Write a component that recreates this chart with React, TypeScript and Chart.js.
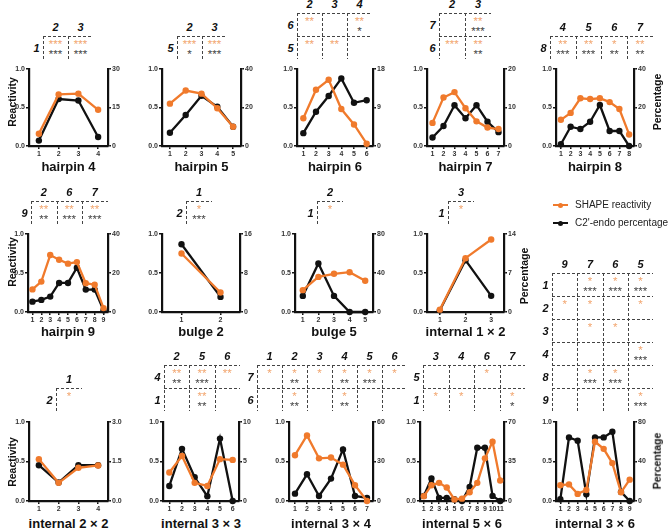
import React, { useEffect, useRef } from 'react';
import { Chart, registerables } from 'chart.js';

Chart.register(...registerables);

// ---------- DATA ----------
const hairpin4Labels = ['1', '2', '3', '4'];
const hairpin4Shape = [0.16, 0.67, 0.68, 0.47];
const hairpin4Endo = [2.1, 18.3, 17.7, 3.5];

const hairpin5Labels = ['1', '2', '3', '4', '5'];
const hairpin5Shape = [0.55, 0.72, 0.68, 0.49, 0.25];
const hairpin5Endo = [6.9, 16.1, 26.1, 20.4, 10];

const hairpin6Labels = ['1', '2', '3', '4', '5', '6'];
const hairpin6Shape = [0.36, 0.73, 0.86, 0.48, 0.28, 0.03];
const hairpin6Endo = [3.0, 8.0, 11.7, 15.8, 10.1, 10.7];

const hairpin7Labels = ['1', '2', '3', '4', '5', '6', '7'];
const hairpin7Shape = [0.3, 0.63, 0.7, 0.49, 0.32, 0.24, 0.22];
const hairpin7Endo = [2.2, 5.2, 10.6, 7.2, 10.6, 6.3, 3.6];

const hairpin8Labels = ['1', '2', '3', '4', '5', '6', '7', '8'];
const hairpin8Shape = [0.34, 0.43, 0.62, 0.61, 0.62, 0.57, 0.48, 0.15];
const hairpin8Endo = [0.9, 10, 8.8, 12.6, 21.3, 7.8, 7.8, 0];

const hairpin9Labels = ['1', '2', '3', '4', '5', '6', '7', '8', '9'];
const hairpin9Shape = [0.29, 0.39, 0.73, 0.67, 0.62, 0.64, 0.37, 0.35, 0.05];
const hairpin9Endo = [5.3, 6.2, 7.9, 14.9, 14.9, 22.7, 11.5, 11.5, 0.9];

const bulge2Labels = ['1', '2'];
const bulge2Shape = [0.75, 0.25];
const bulge2Endo = [13.9, 3.1];

const bulge5Labels = ['1', '2', '3', '4', '5'];
const bulge5Shape = [0.28, 0.45, 0.49, 0.51, 0.4];
const bulge5Endo = [16.5, 49.8, 16.5, 0, 0];

const internal1x2Labels = ['1', '2', '3'];
const internal1x2Shape = [0.03, 0.69, 0.93];
const internal1x2Endo = [0.3, 9.3, 2.9];

const internal2x2Labels = ['1', '2', '3', '4'];
const internal2x2Shape = [0.53, 0.23, 0.42, 0.45];
const internal2x2Endo = [1.36, 0.7, 1.36, 1.36];

const internal3x3Labels = ['1', '2', '3', '4', '5', '6'];
const internal3x3Shape = [0.36, 0.57, 0.23, 0.19, 0.53, 0.52];
const internal3x3Endo = [1.9, 6.6, 3.0, 0.6, 7.9, 0];

const internal3x4Labels = ['1', '2', '3', '4', '5', '6', '7'];
const internal3x4Shape = [0.58, 0.83, 0.54, 0.55, 0.46, 0.2, 0.0];
const internal3x4Endo = [5.6, 20.3, 3.8, 17, 39.2, 3.8, 2.3];

const internal5x6Labels = ['1', '2', '3', '4', '5', '6', '7', '8', '9', '10', '11'];
const internal5x6Shape = [0.06, 0.2, 0.23, 0.17, 0.02, 0.03, 0.11, 0.23, 0.54, 0.75, 0.26];
const internal5x6Endo = [4.5, 19.9, 2.7, 2.7, 1.5, 0, 12.5, 47.2, 47.2, 4.5, 0];

const internal3x6Labels = ['1', '2', '3', '4', '5', '6', '7', '8', '9'];
const internal3x6Shape = [0.2, 0.21, 0.09, 0.14, 0.75, 0.66, 0.48, 0.11, 0.27];
const internal3x6Endo = [1.7, 64.4, 61, 6.8, 64.4, 64.4, 70.2, 9.2, 0];

// right-axis maxima (tick labels 0, max/2, max)
const endoAxisMax = {
  hairpin4: 30, hairpin5: 40, hairpin6: 18, hairpin7: 20, hairpin8: 40,
  hairpin9: 40, bulge2: 16, bulge5: 80, internal1x2: 14,
  internal2x2: 3, internal3x3: 10, internal3x4: 60, internal5x6: 70, internal3x6: 80,
};

// significance tables: columns, rows, cells [orange stars, black stars]
const hairpin4Cols = ['2', '3'];
const hairpin4Rows = ['1'];
const hairpin4Stars = [[['***', '***'], ['***', '***']]];

const hairpin5Cols = ['2', '3'];
const hairpin5Rows = ['5'];
const hairpin5Stars = [[['***', '*'], ['***', '***']]];

const hairpin6Cols = ['2', '3', '4'];
const hairpin6Rows = ['6', '5'];
const hairpin6Stars = [
  [['**', ''], ['', ''], ['**', '*']],
  [['**', ''], ['**', ''], ['', '']],
];

const hairpin7Cols = ['2', '3'];
const hairpin7Rows = ['7', '6'];
const hairpin7Stars = [
  [['', ''], ['**', '***']],
  [['***', ''], ['**', '**']],
];

const hairpin8Cols = ['4', '5', '6', '7'];
const hairpin8Rows = ['8'];
const hairpin8Stars = [[['**', '***'], ['**', '***'], ['*', '**'], ['**', '**']]];

const hairpin9Cols = ['2', '6', '7'];
const hairpin9Rows = ['9'];
const hairpin9Stars = [[['**', '**'], ['**', '***'], ['**', '***']]];

const bulge2Cols = ['1'];
const bulge2Rows = ['2'];
const bulge2Stars = [[['*', '***']]];

const bulge5Cols = ['2'];
const bulge5Rows = ['1'];
const bulge5Stars = [[['*', '']]];

const internal1x2Cols = ['3'];
const internal1x2Rows = ['1'];
const internal1x2Stars = [[['*', '']]];

const internal2x2Cols = ['1'];
const internal2x2Rows = ['2'];
const internal2x2Stars = [[['*', '']]];

const internal3x3Cols = ['2', '5', '6'];
const internal3x3Rows = ['4', '1'];
const internal3x3Stars = [
  [['**', '**'], ['**', '***'], ['**', '']],
  [['', ''], ['**', '**'], ['', '']],
];

const internal3x4Cols = ['1', '2', '3', '4', '5', '6'];
const internal3x4Rows = ['7', '6'];
const internal3x4Stars = [
  [['*', ''], ['*', '**'], ['*', ''], ['*', '**'], ['*', '***'], ['*', '']],
  [['', ''], ['*', '**'], ['', ''], ['*', '**'], ['', ''], ['', '']],
];

const internal5x6Cols = ['3', '4', '6', '7'];
const internal5x6Rows = ['5', '1'];
const internal5x6Stars = [
  [['', ''], ['', ''], ['*', ''], ['', '']],
  [['*', ''], ['*', ''], ['', ''], ['*', '*']],
];

const internal3x6Cols = ['9', '7', '6', '5'];
const internal3x6Rows = ['1', '2', '3', '4', '8', '9'];
const internal3x6Stars = [
  [['', ''], ['*', '***'], ['*', '***'], ['*', '***']],
  [['*', ''], ['*', ''], ['', ''], ['*', '']],
  [['', ''], ['*', ''], ['*', ''], ['', '']],
  [['', ''], ['', ''], ['', ''], ['*', '***']],
  [['', ''], ['*', '***'], ['*', '***'], ['', '']],
  [['', ''], ['', ''], ['', ''], ['*', '***']],
];

const legendLabels = ['SHAPE reactivity', "C2'-endo percentage"];

// ---------- STYLE / LAYOUT ----------
const ORANGE = '#f07a2c';
const ORANGE_STAR = '#f2a56e';
const BLACK = '#111111';
const FONT = '"Liberation Sans", Arial, sans-serif';

const ROWS = [
  { top: 69, bottom: 146, titleY: 166 },
  { top: 234, bottom: 312, titleY: 331 },
  { top: 422, bottom: 501, titleY: 523 },
];

interface PanelDef {
  title: string; labels: string[]; shape: number[]; endo: number[]; endoMax: number;
  x0: number; x1: number; row: number; decimals?: number;
}

const panels: PanelDef[] = [
  { title: 'hairpin 4', labels: hairpin4Labels, shape: hairpin4Shape, endo: hairpin4Endo, endoMax: endoAxisMax.hairpin4, x0: 29, x1: 108, row: 0 },
  { title: 'hairpin 5', labels: hairpin5Labels, shape: hairpin5Shape, endo: hairpin5Endo, endoMax: endoAxisMax.hairpin5, x0: 162, x1: 241, row: 0 },
  { title: 'hairpin 6', labels: hairpin6Labels, shape: hairpin6Shape, endo: hairpin6Endo, endoMax: endoAxisMax.hairpin6, x0: 297, x1: 373, row: 0 },
  { title: 'hairpin 7', labels: hairpin7Labels, shape: hairpin7Shape, endo: hairpin7Endo, endoMax: endoAxisMax.hairpin7, x0: 427, x1: 504, row: 0 },
  { title: 'hairpin 8', labels: hairpin8Labels, shape: hairpin8Shape, endo: hairpin8Endo, endoMax: endoAxisMax.hairpin8, x0: 556, x1: 634, row: 0 },
  { title: 'hairpin 9', labels: hairpin9Labels, shape: hairpin9Shape, endo: hairpin9Endo, endoMax: endoAxisMax.hairpin9, x0: 28, x1: 108, row: 1 },
  { title: 'bulge 2', labels: bulge2Labels, shape: bulge2Shape, endo: bulge2Endo, endoMax: endoAxisMax.bulge2, x0: 162, x1: 240, row: 1 },
  { title: 'bulge 5', labels: bulge5Labels, shape: bulge5Shape, endo: bulge5Endo, endoMax: endoAxisMax.bulge5, x0: 295, x1: 373, row: 1 },
  { title: 'internal 1 × 2', labels: internal1x2Labels, shape: internal1x2Shape, endo: internal1x2Endo, endoMax: endoAxisMax.internal1x2, x0: 427, x1: 504, row: 1 },
  { title: 'internal 2 × 2', labels: internal2x2Labels, shape: internal2x2Shape, endo: internal2x2Endo, endoMax: endoAxisMax.internal2x2, x0: 29, x1: 108, row: 2, decimals: 1 },
  { title: 'internal 3 × 3', labels: internal3x3Labels, shape: internal3x3Shape, endo: internal3x3Endo, endoMax: endoAxisMax.internal3x3, x0: 163, x1: 239, row: 2 },
  { title: 'internal 3 × 4', labels: internal3x4Labels, shape: internal3x4Shape, endo: internal3x4Endo, endoMax: endoAxisMax.internal3x4, x0: 289, x1: 373, row: 2 },
  { title: 'internal 5 × 6', labels: internal5x6Labels, shape: internal5x6Shape, endo: internal5x6Endo, endoMax: endoAxisMax.internal5x6, x0: 420, x1: 504, row: 2 },
  { title: 'internal 3 × 6', labels: internal3x6Labels, shape: internal3x6Shape, endo: internal3x6Endo, endoMax: endoAxisMax.internal3x6, x0: 556, x1: 634, row: 2 },
];

interface TableDef { cols: string[]; rows: string[]; cells: string[][][]; x: number; y: number; cw: number; }

const tables: TableDef[] = [
  { cols: hairpin4Cols, rows: hairpin4Rows, cells: hairpin4Stars, x: 43, y: 36, cw: 25 },
  { cols: hairpin5Cols, rows: hairpin5Rows, cells: hairpin5Stars, x: 177, y: 36, cw: 25 },
  { cols: hairpin6Cols, rows: hairpin6Rows, cells: hairpin6Stars, x: 297, y: 13, cw: 25 },
  { cols: hairpin7Cols, rows: hairpin7Rows, cells: hairpin7Stars, x: 439, y: 13, cw: 26 },
  { cols: hairpin8Cols, rows: hairpin8Rows, cells: hairpin8Stars, x: 550, y: 36, cw: 25.7 },
  { cols: hairpin9Cols, rows: hairpin9Rows, cells: hairpin9Stars, x: 31, y: 201, cw: 25.5 },
  { cols: bulge2Cols, rows: bulge2Rows, cells: bulge2Stars, x: 186, y: 201, cw: 26 },
  { cols: bulge5Cols, rows: bulge5Rows, cells: bulge5Stars, x: 317, y: 201, cw: 26 },
  { cols: internal1x2Cols, rows: internal1x2Rows, cells: internal1x2Stars, x: 448, y: 201, cw: 26 },
  { cols: internal2x2Cols, rows: internal2x2Rows, cells: internal2x2Stars, x: 56, y: 388, cw: 26 },
  { cols: internal3x3Cols, rows: internal3x3Rows, cells: internal3x3Stars, x: 164, y: 365, cw: 25.3 },
  { cols: internal3x4Cols, rows: internal3x4Rows, cells: internal3x4Stars, x: 257, y: 365, cw: 25 },
  { cols: internal5x6Cols, rows: internal5x6Rows, cells: internal5x6Stars, x: 423, y: 365, cw: 25.5 },
  { cols: internal3x6Cols, rows: internal3x6Rows, cells: internal3x6Stars, x: 552, y: 273, cw: 25.3 },
];

const RH = 23;
const PADL = 26, PADR = 26, PADT = 6, PADB = 14;

function Panel({ p }: { p: PanelDef }) {
  const ref = useRef<HTMLCanvasElement>(null);
  const r = ROWS[p.row];
  const w = p.x1 - p.x0 + PADL + PADR;
  const h = r.bottom - r.top + PADT + PADB;
  useEffect(() => {
    const tickFont = { family: FONT, size: 7, weight: 'bold' as const };
    const gridOpts = { display: true, drawOnChartArea: false, drawTicks: true, tickLength: 3, color: BLACK, lineWidth: 1.5 };
    const borderOpts = { display: true, color: BLACK, width: 2.2 };
    const chart = new Chart(ref.current as HTMLCanvasElement, {
      type: 'line',
      data: {
        labels: p.labels,
        datasets: [
          {
            data: p.shape, yAxisID: 'y', borderColor: ORANGE, backgroundColor: ORANGE,
            pointBackgroundColor: ORANGE, pointBorderColor: ORANGE, borderWidth: 2.3,
            pointRadius: 3.2, pointBorderWidth: 0, clip: false as any, tension: 0,
          },
          {
            data: p.endo, yAxisID: 'y1', borderColor: BLACK, backgroundColor: BLACK,
            pointBackgroundColor: BLACK, pointBorderColor: BLACK, borderWidth: 2.3,
            pointRadius: 3.2, pointBorderWidth: 0, clip: false as any, tension: 0,
          },
        ],
      },
      options: {
        animation: false, responsive: false, maintainAspectRatio: false, devicePixelRatio: 1,
        events: [],
        layout: { padding: { top: PADT, left: 0, right: 0, bottom: 0 } },
        plugins: { legend: { display: false }, tooltip: { enabled: false } },
        scales: {
          x: {
            type: 'category', offset: true,
            grid: { ...gridOpts, offset: false },
            border: borderOpts,
            ticks: { font: tickFont, color: '#333', padding: 1, autoSkip: false, maxRotation: 0 },
            afterFit: (s: any) => { s.height = PADB; },
          },
          y: {
            position: 'left', min: 0, max: 1,
            grid: gridOpts, border: borderOpts,
            ticks: { stepSize: 0.5, font: tickFont, color: '#333', padding: 1, callback: (v: any) => Number(v).toFixed(1) },
            afterFit: (s: any) => { s.width = PADL; },
          },
          y1: {
            position: 'right', min: 0, max: p.endoMax,
            grid: gridOpts, border: borderOpts,
            ticks: {
              stepSize: p.endoMax / 2, font: tickFont, color: '#333', padding: 1,
              callback: (v: any) => p.decimals ? Number(v).toFixed(p.decimals) : String(Math.round(Number(v))),
            },
            afterFit: (s: any) => { s.width = PADR; },
          },
        },
      },
    });
    return () => chart.destroy();
  }, []);
  return (
    <>
      <canvas ref={ref} width={w} height={h}
        style={{ position: 'absolute', left: p.x0 - PADL, top: r.top - PADT, width: w, height: h }} />
      <div style={{
        position: 'absolute', left: (p.x0 + p.x1) / 2, top: r.titleY, transform: 'translate(-50%,-50%)',
        font: `bold 13px ${FONT}`, color: '#111', whiteSpace: 'nowrap', lineHeight: 1,
      }}>{p.title}</div>
    </>
  );
}

function Txt({ x, y, children, style }: { x: number; y: number; children: any; style: any }) {
  return (
    <div style={{
      position: 'absolute', left: x, top: y, transform: 'translate(-50%,-50%)',
      whiteSpace: 'nowrap', lineHeight: 1, ...style,
    }}>{children}</div>
  );
}

const DASH_H = 'repeating-linear-gradient(to right, #444 0 3px, transparent 3px 5px)';
const DASH_V = 'repeating-linear-gradient(to bottom, #444 0 3px, transparent 3px 5px)';

function SigTable({ t }: { t: TableDef }) {
  const nC = t.cols.length, nR = t.rows.length;
  const els: any[] = [];
  const hdr = { font: `italic bold 11px ${FONT}`, color: '#111' };
  t.cols.forEach((c, i) => {
    els.push(<Txt key={'c' + i} x={t.x + t.cw * (i + 0.5)} y={t.y - 9} style={hdr}>{c}</Txt>);
  });
  t.rows.forEach((rw, j) => {
    els.push(<Txt key={'r' + j} x={t.x - 6.5} y={t.y + RH * j + 12} style={hdr}>{rw}</Txt>);
    els.push(<div key={'h' + j} style={{ position: 'absolute', left: t.x, top: t.y + RH * j, width: t.cw * nC, height: 1, background: DASH_H }} />);
    t.cells[j].forEach((cell, i) => {
      const cx = t.x + t.cw * (i + 0.5);
      if (cell[0]) els.push(<Txt key={`o${j}_${i}`} x={cx} y={t.y + RH * j + 8} style={{ font: `11.5px ${FONT}`, color: ORANGE_STAR }}>{cell[0]}</Txt>);
      if (cell[1]) els.push(<Txt key={`b${j}_${i}`} x={cx} y={t.y + RH * j + 18} style={{ font: `11.5px ${FONT}`, color: '#444' }}>{cell[1]}</Txt>);
    });
  });
  for (let i = 0; i < nC; i++) {
    els.push(<div key={'v' + i} style={{ position: 'absolute', left: t.x + t.cw * i, top: t.y, width: 1, height: RH * nR, background: DASH_V }} />);
  }
  return <>{els}</>;
}

function AxisLabel({ x, y, text }: { x: number; y: number; text: string }) {
  return (
    <div style={{
      position: 'absolute', left: x, top: y, transform: 'translate(-50%,-50%) rotate(-90deg)',
      font: `bold 10.5px ${FONT}`, color: '#111', whiteSpace: 'nowrap', lineHeight: 1,
    }}>{text}</div>
  );
}

function LegendItem({ y, color, text }: { y: number; color: string; text: string }) {
  return (
    <>
      <div style={{ position: 'absolute', left: 553, top: y - 1, width: 15, height: 2, background: color }} />
      <div style={{ position: 'absolute', left: 558, top: y - 2.5, width: 5, height: 5, borderRadius: '50%', background: color }} />
      <div style={{ position: 'absolute', left: 575, top: y, transform: 'translateY(-50%)', font: `10px ${FONT}`, color: '#222', whiteSpace: 'nowrap', lineHeight: 1 }}>{text}</div>
    </>
  );
}

export default function App() {
  return (
    <div style={{ position: 'absolute', left: 0, top: 0, width: 668, height: 529, background: '#fff', overflow: 'hidden' }}>
      {panels.map((p, i) => <Panel key={i} p={p} />)}
      {tables.map((t, i) => <SigTable key={i} t={t} />)}
      <AxisLabel x={12} y={102} text="Reactivity" />
      <AxisLabel x={12} y={262} text="Reactivity" />
      <AxisLabel x={12} y={462} text="Reactivity" />
      <AxisLabel x={657} y={102} text="Percentage" />
      <AxisLabel x={524} y={276} text="Percentage" />
      <AxisLabel x={657} y={461} text="Percentage" />
      <LegendItem y={205} color={ORANGE} text={legendLabels[0]} />
      <LegendItem y={223} color={BLACK} text={legendLabels[1]} />
    </div>
  );
}
